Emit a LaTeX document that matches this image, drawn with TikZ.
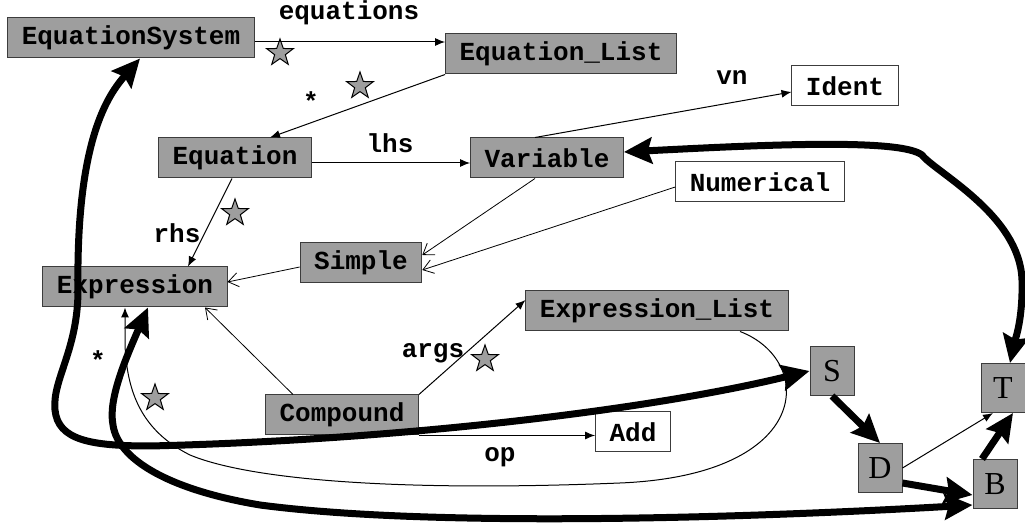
\documentclass[tikz,border=0pt]{standalone}
\usepackage{fontspec}
\setmainfont{Liberation Serif}
\setmonofont{Liberation Mono}
\usepackage{tikz}
\usetikzlibrary{
  arrows.meta,
  shapes.geometric,
  calc
}
\definecolor{asGray}{HTML}{9E9E9E}
\definecolor{asEdge}{HTML}{3C3C3C}
\tikzset{
  asnode/.style={
    draw=asEdge, line width=0.5pt, minimum height=20pt, inner xsep=7pt,
    font=\fontsize{13}{15}\selectfont\ttfamily\bfseries
  },
  classbox/.style={asnode, fill=asGray},
  basebox/.style={asnode, fill=white},
  statebox/.style={
    draw=asEdge, line width=0.5pt, fill=asGray, minimum width=22pt,
    minimum height=24.5pt, inner sep=0pt, font=\fontsize{16}{18}\selectfont\rmfamily
  },
  role/.style={font=\fontsize{13}{15}\selectfont\ttfamily\bfseries, inner sep=1pt},
  rolestar/.style={
    star, star points=5, star point ratio=2.5, draw=black, line width=0.5pt,
    fill=asGray, minimum size=14pt, inner sep=0pt
  },
  assoc/.style={-{Latex[length=5pt, width=4pt]}, line width=0.5pt},
  generalize/.style={-{Straight Barb[length=5pt, width=7pt]}, line width=0.4pt},
  thickwalk/.style={
    {Stealth[length=14pt, width=13pt, inset=2pt]}-{Stealth[length=14pt, width=13pt, inset=2pt]},
    line width=3.5pt
  },
  thickstep/.style={-{Stealth[length=14pt, width=13pt, inset=2pt]}, line width=3.5pt}
}

\begin{document}
\begin{tikzpicture}[x=0.5pt, y=-0.5pt]
  \useasboundingbox (0,0) rectangle (1025,529);

  \node[classbox] (eqsys) at (131,38) {EquationSystem};
  \node[classbox] (eqlist) at (561,54) {Equation\_List};
  \node[classbox] (equation) at (235,158) {Equation};
  \node[classbox] (variable) at (547,158) {Variable};
  \node[basebox] (ident) at (845,86) {Ident};
  \node[basebox] (numerical) at (760,182) {Numerical};
  \node[classbox] (simple) at (361,263) {Simple};
  \node[classbox] (expression) at (135,287) {Expression};
  \node[classbox] (exprlist) at (657,311) {Expression\_List};
  \node[classbox] (compound) at (342,415) {Compound};
  \node[basebox] (add) at (633,432) {Add};

  \node[statebox] (S) at (832,371) {S};
  \node[statebox] (D) at (880,468) {D};
  \node[statebox] (T) at (1003,388) {T};
  \node[statebox] (B) at (995,484) {B};

  \node[role] (lblequations) at (349,13) {equations};
  \node[role] (lblmany) at (311,101) {*};
  \node[role] (lbllhs) at (390,143) {lhs};
  \node[role] (lblvn) at (732,78) {vn};
  \node[role] (lblrhs) at (177,233) {rhs};
  \node[role] (lblargs) at (433,353) {args};
  \node[role] (lblop) at (500,457) {op};
  \node[role] (lblmanyargs) at (98,360) {*};

  \node[rolestar] (star1) at (280,53) {};
  \node[rolestar] (star2) at (360,86) {};
  \node[rolestar] (star3) at (235,213) {};
  \node[rolestar] (star4) at (485,359) {};
  \node[rolestar] (star5) at (155,398) {};

  \draw[assoc] ([yshift=-2pt]eqsys.east) -- ([yshift=-2pt]eqsys.east -| eqlist.west);
  \draw[assoc] (eqlist.south west) -- ([xshift=17.5pt]equation.north);
  \draw[assoc] ([yshift=-2.5pt]equation.east) -- ([yshift=-2.5pt]equation.east -| variable.west);
  \draw[assoc] ([xshift=-6pt]variable.north) -- ([yshift=-3pt]ident.west);
  \draw[assoc] ([xshift=-1.5pt]equation.south) -- ([xshift=26.5pt]expression.north);
  \draw[generalize] ([yshift=-2pt]simple.west) -- ([yshift=2.5pt]expression.east);
  \draw[generalize] ([xshift=-6pt]variable.south) -- ([yshift=4pt]simple.east);
  \draw[generalize] ([yshift=-2.5pt]numerical.west) -- ([yshift=-3.5pt]simple.east);
  \draw[generalize] ([xshift=-24.5pt]compound.north) -- ([xshift=35pt]expression.south);
  \draw[assoc] (compound.north east) -- ([yshift=5.5pt]exprlist.west);
  \draw[assoc] (compound.south east) -- (compound.south east -| add.west);
  \draw[assoc] ([xshift=41.5pt]exprlist.south) .. controls (815,360) and (815,475) .. (620,483)
    .. controls (400,492) and (250,480) .. (190,455)
    .. controls (140,430) and (127,390) .. (125,345)
    -- ([xshift=-5pt]expression.south);
  \draw[assoc] (D.east) -- ([xshift=-5pt]T.south);

  \draw[thickwalk] ([xshift=4.5pt]eqsys.south) .. controls (108,95) and (76,140) .. (78,290)
    .. controls (78,350) and (52,380) .. (55,410)
    .. controls (58,440) and (90,446) .. (150,446)
    .. controls (400,440) and (650,410) .. (S.west);
  \draw[thickwalk] ([xshift=6.5pt]expression.south) .. controls (125,360) and (108,400) .. (113,425)
    .. controls (118,460) and (170,490) .. (260,505)
    .. controls (450,530) and (800,515) .. ([yshift=-10.5pt]B.west);
  \draw[thickwalk] ([yshift=3pt]variable.east) .. controls (760,145) and (900,138) .. (922,155)
    .. controls (935,172) and (1020,215) .. (1022,280)
    .. controls (1023,320) and (1015,340) .. ([xshift=3.5pt]T.north);
  \draw[thickstep] (S.south) -- (D.north);
  \draw[thickstep] ([yshift=-7.5pt]D.east) -- ([yshift=-5.5pt]B.west);
  \draw[thickstep] ([xshift=-6.5pt]B.north) -- ([xshift=5pt]T.south);
\end{tikzpicture}
\end{document}
